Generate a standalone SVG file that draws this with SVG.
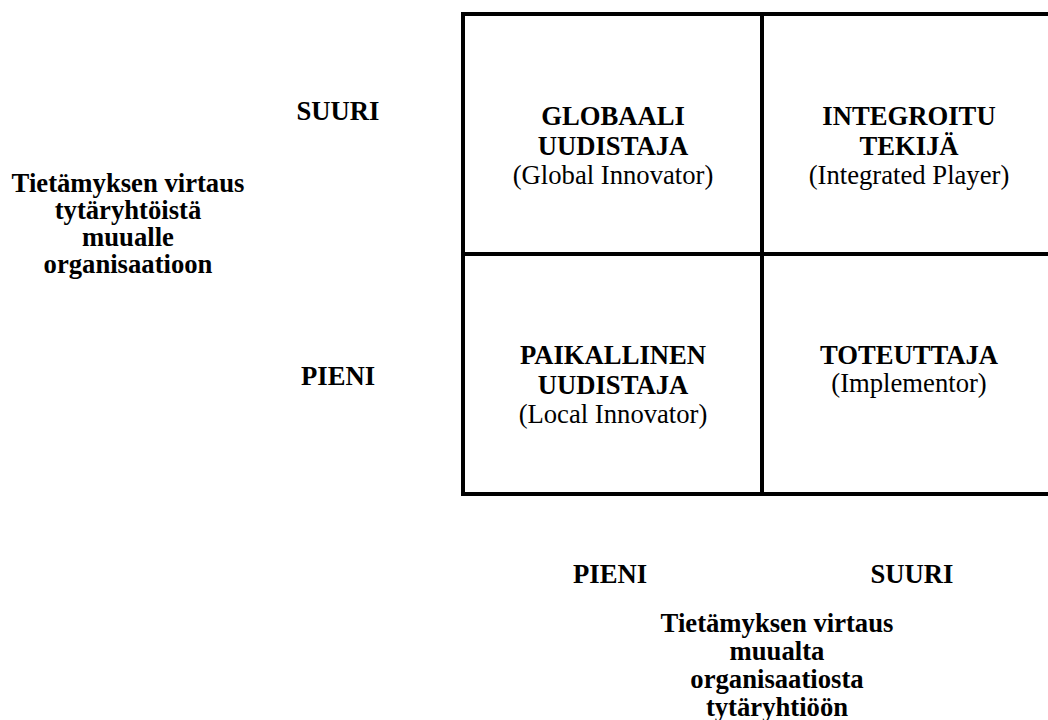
<svg xmlns="http://www.w3.org/2000/svg" width="1048" height="720" viewBox="0 0 1048 720">
<style>
text{font-family:"Liberation Serif","Times New Roman",serif;font-size:26.67px;fill:#000;text-anchor:middle}
.b{font-weight:bold}
.grid{stroke:#000;stroke-width:4;fill:none}
</style>
<rect width="1048" height="720" fill="#fff"/>
<g id="connectors">
<line class="grid" x1="463" y1="12" x2="463" y2="496"/>
<line class="grid" x1="461" y1="14" x2="1048" y2="14"/>
<line class="grid" x1="461" y1="254" x2="1048" y2="254"/>
<line class="grid" x1="461" y1="494" x2="1048" y2="494"/>
<line class="grid" x1="762" y1="14" x2="762" y2="494"/>
</g>
<g id="globaali">
<text class="b" x="613" y="125">GLOBAALI</text>
<text class="b" x="613" y="155">UUDISTAJA</text>
<text x="613" y="184">(Global Innovator)</text>
</g>
<g id="integroitu">
<text class="b" x="909" y="125">INTEGROITU</text>
<text class="b" x="909" y="155">TEKIJÄ</text>
<text x="909" y="184">(Integrated Player)</text>
</g>
<g id="paikallinen">
<text class="b" x="613" y="364">PAIKALLINEN</text>
<text class="b" x="613" y="394">UUDISTAJA</text>
<text x="613" y="423">(Local Innovator)</text>
</g>
<g id="toteuttaja">
<text class="b" x="909" y="364">TOTEUTTAJA</text>
<text x="909" y="392">(Implementor)</text>
</g>
<g id="y-labels">
<text class="b" x="338" y="120">SUURI</text>
<text class="b" x="338" y="385">PIENI</text>
</g>
<g id="y-axis">
<text class="b" x="128" y="192">Tietämyksen virtaus</text>
<text class="b" x="128" y="219">tytäryhtöistä</text>
<text class="b" x="128" y="246">muualle</text>
<text class="b" x="128" y="273">organisaatioon</text>
</g>
<g id="x-labels">
<text class="b" x="610" y="583">PIENI</text>
<text class="b" x="912" y="583">SUURI</text>
</g>
<g id="x-axis">
<text class="b" x="777" y="632">Tietämyksen virtaus</text>
<text class="b" x="777" y="660">muualta</text>
<text class="b" x="777" y="688">organisaatiosta</text>
<text class="b" x="777" y="716">tytäryhtiöön</text>
</g>
</svg>
